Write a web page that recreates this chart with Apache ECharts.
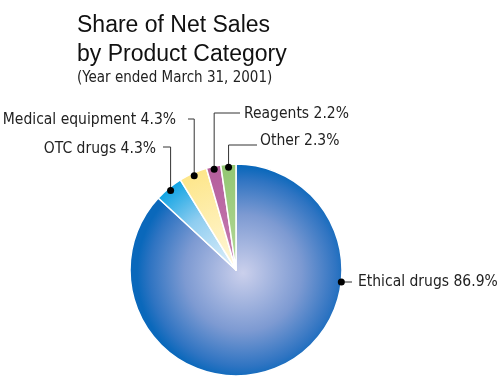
<!DOCTYPE html>
<html>
<head>
<meta charset="utf-8">
<script src="https://cdn.jsdelivr.net/npm/echarts@6/dist/echarts.min.js"></script>
<style>
  html, body { margin: 0; padding: 0; background: #fff; }
  #chart { width: 498px; height: 376px; }
</style>
</head>
<body>
<div id="chart"></div>
<script>
// 数据
const categories = ['Ethical drugs', 'OTC drugs', 'Medical equipment', 'Reagents', 'Other'];
const shares = [86.9, 4.3, 4.3, 2.2, 2.3];

const CX = 236, CY = 270, R = 106;
const NARROW = '"Liberation Sans Narrow", "DejaVu Sans Condensed", "Arial Narrow", sans-serif';

// 径向渐变
function radial(x, y, r, stops) {
    return {
        type: 'radial', x: x, y: y, r: r, global: true,
        colorStops: stops.map(c => ({ offset: c[0], color: c[1] }))
    };
}
const colors = [
    radial(243, 273, R, [[0, '#cbd0ec'], [0.55, '#7d9ad2'], [0.88, '#2f74c2'], [1, '#0a68bb']]),
    radial(CX, CY, R, [[0, '#e6f2fb'], [0.6, '#8fcdf0'], [1, '#0ea3e3']]),
    radial(CX, CY, R, [[0, '#fff8dc'], [1, '#fde68a']]),
    radial(CX, CY, R, [[0, '#c77db2'], [1, '#b45e9c']]),
    radial(CX, CY, R, [[0, '#b5d99a'], [1, '#92c671']])
];

// 标签位置 (label x/y, 对齐, 引线拐点 y, 引线终点 x)
const labelPos = [
    { x: 358, y: 282, align: 'left', lineY: 282, endX: 352 },
    { x: 156, y: 149, align: 'right', lineY: 147, endX: 163 },
    { x: 176, y: 120, align: 'right', lineY: 119, endX: 188 },
    { x: 244, y: 114, align: 'left', lineY: 113, endX: 240 },
    { x: 260, y: 141, align: 'left', lineY: 145, endX: 257 }
];

// 圆点位置: 小扇区取中间角度, 大扇区放在右侧边缘
const total = shares.reduce((a, b) => a + b, 0);
let acc = 0;
const dots = shares.map((v, i) => {
    const mid = (acc + v / 2) / total * Math.PI * 2;
    acc += v;
    if (i === 0) {
        const dy = labelPos[0].y - CY;
        return [CX + Math.sqrt(R * R - dy * dy), labelPos[0].y];
    }
    return [CX + (R - 3) * Math.sin(mid), CY - (R - 3) * Math.cos(mid)];
});

const graphics = [];
dots.forEach((d, i) => {
    const p = labelPos[i];
    graphics.push({
        type: 'polyline', z: 10,
        shape: { points: [d, [d[0], p.lineY], [p.endX, p.lineY]] },
        style: { stroke: '#333', lineWidth: 1, fill: null }
    });
    graphics.push({
        type: 'circle', z: 11,
        shape: { cx: d[0], cy: d[1], r: 3.5 },
        style: { fill: '#000' }
    });
});

const myChart = echarts.init(document.getElementById('chart'), null, { renderer: 'canvas' });

const option = {
    animation: false,
    title: [
        {
            text: 'Share of Net Sales\nby Product Category',
            left: 72, top: 6,
            textStyle: {
                fontFamily: '"Liberation Sans", Arial, sans-serif',
                fontSize: 23, fontWeight: 'normal', color: '#111', lineHeight: 29
            }
        },
        {
            text: '(Year ended March 31, 2001)',
            left: 72, top: 66,
            textStyle: {
                fontFamily: NARROW, fontSize: 15, fontWeight: 'normal', color: '#222'
            }
        }
    ],
    graphic: graphics,
    series: [
        {
            type: 'pie',
            center: [CX, CY],
            radius: [0, R],
            startAngle: 90,
            clockwise: true,
            data: categories.map((name, i) => ({
                name: name,
                value: shares[i],
                itemStyle: { color: colors[i] }
            })),
            itemStyle: { borderColor: '#fff', borderWidth: 1.5 },
            label: {
                show: true,
                formatter: p => p.name + ' ' + p.value.toFixed(1) + '%',
                fontFamily: NARROW,
                fontSize: 15.5,
                color: '#222',
                overflow: 'none'
            },
            labelLine: { show: false },
            labelLayout: function (params) {
                const p = labelPos[params.dataIndex];
                return { x: p.x, y: p.y, align: p.align, verticalAlign: 'middle' };
            },
            emphasis: { disabled: true }
        }
    ]
};

myChart.setOption(option);
window.addEventListener('resize', () => {
    myChart.resize();
});
</script>
</body>
</html>
